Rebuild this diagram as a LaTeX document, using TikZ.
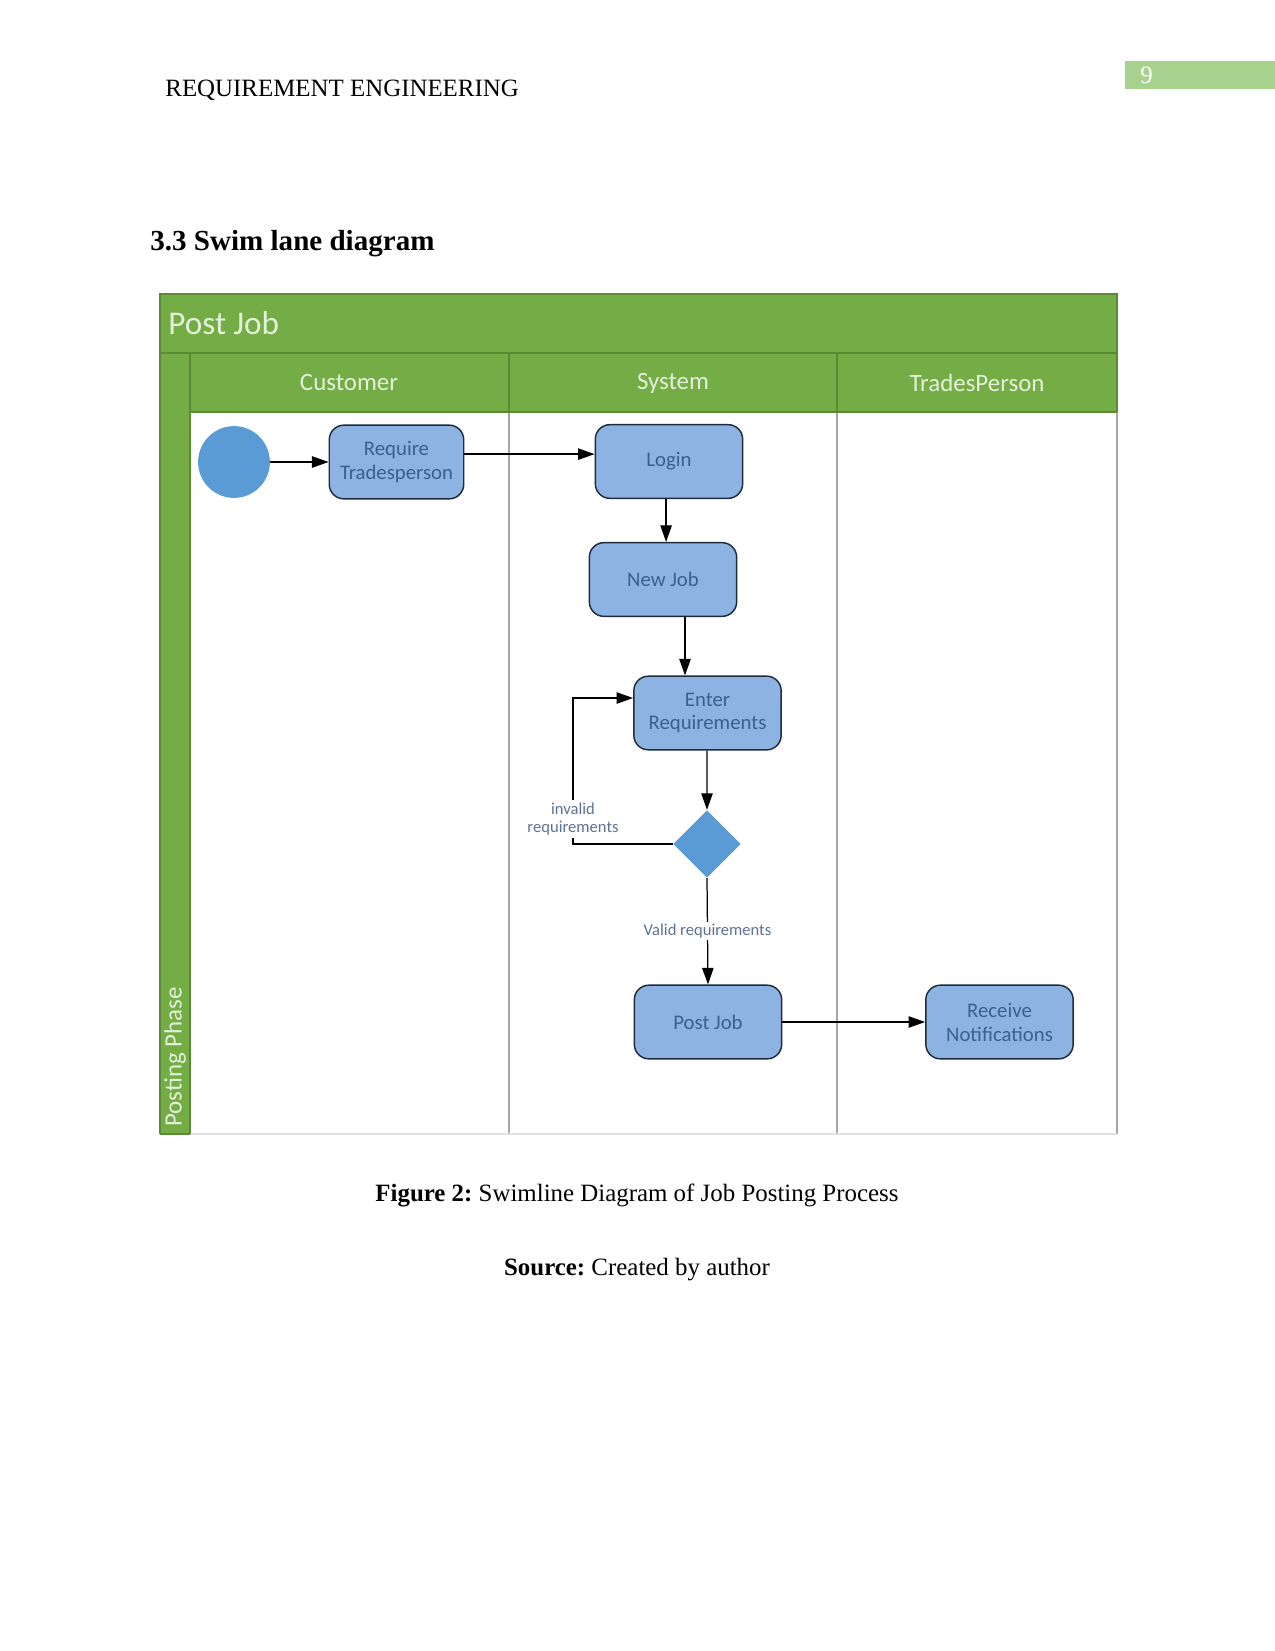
\documentclass[tikz,border=0pt]{standalone}
\usepackage{fontspec}
\setmainfont{Liberation Serif}
\newfontfamily\diag{Carlito}
\usetikzlibrary{shapes.geometric,arrows.meta}
\definecolor{lanegreen}{HTML}{74AD45}
\definecolor{darkgreen}{HTML}{5A8A34}
\definecolor{headtext}{HTML}{E4F1DA}
\definecolor{boxfill}{HTML}{8DB3E2}
\definecolor{boxline}{HTML}{1F2B3A}
\definecolor{boxtext}{HTML}{3D5F8E}
\definecolor{lbltext}{HTML}{5C7395}
\definecolor{startfill}{HTML}{5B9BD5}
\definecolor{laneline}{HTML}{A6A6A6}
\definecolor{pagegreen}{HTML}{A9D18E}
\frenchspacing
\tikzset{
  stepbox/.style={draw=boxline, line width=0.7pt, fill=boxfill, rounded corners=7pt,
    minimum width=71pt, minimum height=35.5pt, inner sep=0pt, align=center,
    font=\diag\fontsize{10}{11.5}\selectfont, text=boxtext},
  flow/.style={draw=black, line width=0.6pt, -{Triangle[length=8pt,width=5.5pt]}},
  lbl/.style={fill=white, font=\diag\fontsize{8}{9}\selectfont, text=lbltext, inner sep=1pt, align=center},
  lanehead/.style={font=\diag\fontsize{12}{14}\selectfont, text=headtext},
  pagetext/.style={font=\fontsize{12}{14}\selectfont, text=black, inner sep=0pt}
}
\begin{document}
\begin{tikzpicture}[x=0.016933cm,y=-0.016933cm]
\useasboundingbox (0,0) rectangle (1275,1651);
% page header
\fill[pagegreen] (1125,61) rectangle (1275,89);
\node[pagetext, text=white, anchor=west] (pnum) at (1140,75) {9};
\node[pagetext, anchor=base west] (runhead) at (165,96) {REQUIREMENT ENGINEERING};
\node[pagetext, font=\fontsize{14}{17}\selectfont\bfseries, anchor=base west] (sectitle) at (150,250) {3.3 Swim lane diagram};
% swimlane frame
\draw[laneline, line width=0.5pt] (190,412) -- (190,1134);
\draw[laneline, line width=0.5pt] (509,412) -- (509,1134);
\draw[laneline, line width=0.5pt] (837,412) -- (837,1134);
\draw[laneline, line width=0.5pt] (1117,412) -- (1117,1134);
\draw[black!12, line width=0.5pt] (190,1134) -- (1117,1134);
\fill[lanegreen] (160,294) rectangle (1117,353);
\fill[lanegreen] (190,353) rectangle (1117,412);
\fill[lanegreen] (160,353) rectangle (190,1134);
\draw[darkgreen, line width=0.7pt] (160,1134) -- (160,294) -- (1117,294) -- (1117,412);
\draw[darkgreen, line width=0.7pt] (160,353) -- (1117,353);
\draw[darkgreen, line width=0.7pt] (190,412) -- (1117,412);
\draw[darkgreen, line width=0.7pt] (190,353) -- (190,1134);
\draw[darkgreen, line width=0.7pt] (509,353) -- (509,412);
\draw[darkgreen, line width=0.7pt] (837,353) -- (837,412);
\draw[darkgreen, line width=0.7pt] (190,1134) -- (160,1134);
\node[lanehead, font=\diag\fontsize{16}{19}\selectfont, anchor=west, inner sep=0pt] (pool) at (168,323) {Post Job};
\node[lanehead] (customer) at (349,383) {Customer};
\node[lanehead] (system) at (673,383) {System};
\node[lanehead] (trades) at (977,383) {TradesPerson};
\node[lanehead, rotate=90] (phase) at (175,1057) {Posting Phase};
% nodes
\node[circle, fill=startfill, minimum size=34.6pt, inner sep=0pt] (start) at (234,462) {};
\node[stepbox, minimum width=64.8pt] (require) at (396.5,462) {Require\\Tradesperson};
\node[stepbox] (login) at (669,461.5) {Login};
\node[stepbox] (newjob) at (663,579.5) {New Job};
\node[stepbox] (enter) at (707.5,713) {Enter\\Requirements};
\node[diamond, fill=startfill, minimum width=32.5pt, minimum height=32.5pt, inner sep=0pt] (dec) at (707,844) {};
\node[stepbox] (postjob) at (708,1022) {Post Job};
\node[stepbox] (receive) at (999.5,1022) {Receive\\Notifications};
% connectors
\draw[flow] (start) -- (require);
\draw[flow] ([yshift=3.8pt]require.east) -- ([yshift=3.8pt]require.east -| login.west);
\draw[flow] ([xshift=-1.4pt]login.south) -- ([xshift=-1.4pt]login.south |- newjob.north);
\draw[flow] ([xshift=10.6pt]newjob.south) -- ([xshift=10.6pt]newjob.south |- enter.north);
\draw[flow] ([xshift=-0.2pt]enter.south) -- (dec.north);
\coordinate (loopA) at (573,844);
\coordinate (loopB) at (573,698);
\draw[flow] (dec.west) -- (loopA) -- (loopB) -- (enter.west |- loopB);
\node[lbl] (invalid) at (573,819) {invalid\\requirements};
\draw[flow] (dec.south) -- node[lbl] (valid) {Valid requirements} (postjob.north);
\draw[flow] (postjob) -- (receive);
% caption
\node[pagetext, anchor=base] (caption) at (637,1201) {\textbf{Figure 2:} Swimline Diagram of Job Posting Process};
\node[pagetext, anchor=base] (source) at (637,1275) {\textbf{Source:} Created by author};
\end{tikzpicture}
\end{document}
